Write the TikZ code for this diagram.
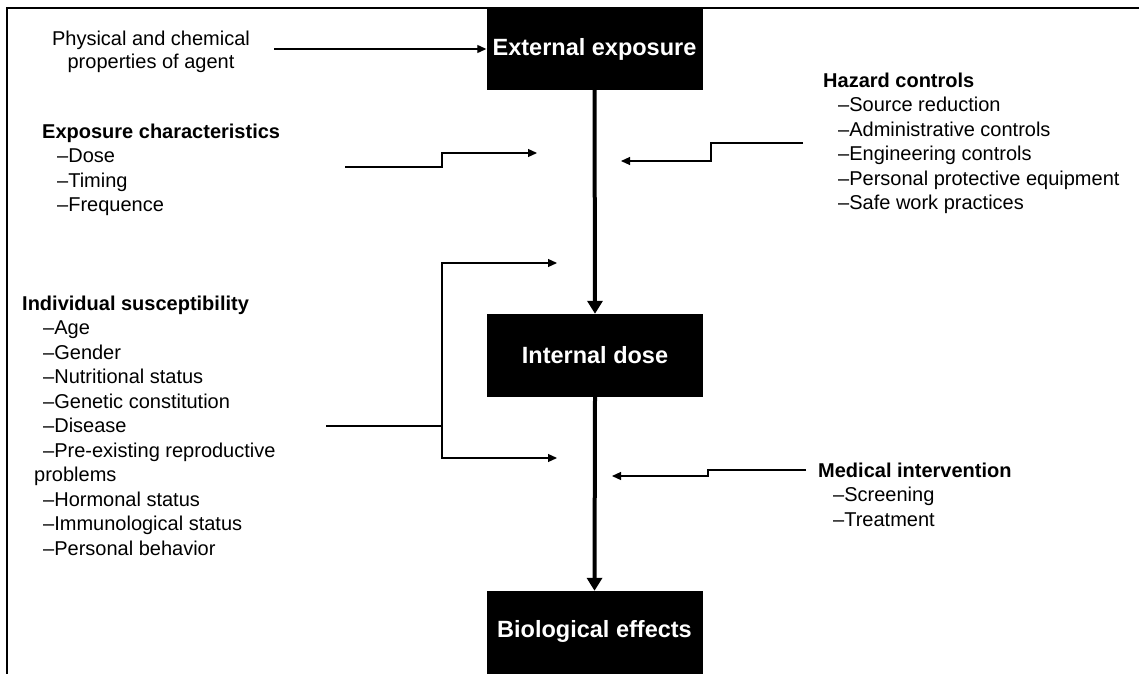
\documentclass[tikz,border=0pt]{standalone}
\usepackage{fontspec}
\setmainfont{Liberation Sans}
\usetikzlibrary{arrows.meta}
\begin{document}
\begin{tikzpicture}[x=1pt,y=-1pt,
  stage/.style={fill=black,text=white,inner sep=0pt,
    font=\fontsize{23.5}{27}\selectfont\bfseries,
    minimum width=216pt,minimum height=83pt},
  factor/.style={font=\fontsize{20}{24.5}\selectfont,align=left,
    inner sep=0pt,anchor=north west},
  feed/.style={line width=1.2pt,-{Triangle[length=9pt,width=8pt]}},
  wire/.style={line width=1.2pt},
  flow/.style={line width=4pt,-{Triangle[length=13pt,width=15pt]}}]
\useasboundingbox (0,0) rectangle (1139,674);

% frame
\draw[line width=1.5pt] (1139,8) -- (7,8) -- (7,674);

% main stages
\node[stage,minimum height=82pt] (ext) at (594.5,49) {\raisebox{-3pt}{External exposure}};
\node[stage] (int) at (595,355.5) {Internal dose};
\node[stage] (bio) at (594.5,632.5) {\raisebox{7pt}{Biological effects}};

\draw[flow] (ext.south) -- (int.north);
\draw[flow] (int.south) -- (bio.north);

% agent properties
\node[font=\fontsize{20}{23}\selectfont,align=center,inner sep=0pt,anchor=north]
  (agent) at (151,30.4) {Physical and chemical\\properties of agent};
\coordinate (agentEnd) at (274,49);
\draw[feed] (agentEnd) -- (ext.west);

% exposure characteristics
\node[factor] (expo) at (42,123.4) {\textbf{Exposure characteristics}\\
  \hspace*{15pt}\textendash Dose\\
  \hspace*{15pt}\textendash Timing\\
  \hspace*{15pt}\textendash Frequence};
\coordinate (expoA) at (345,167);
\coordinate (expoB) at (442,167);
\coordinate (expoC) at (442,153);
\coordinate (expoD) at (537,153);
\draw[feed] (expoA) -- (expoB) -- (expoC) -- (expoD);

% hazard controls
\node[factor] (haz) at (823,72.4) {\textbf{Hazard controls}\\
  \hspace*{15pt}\textendash Source reduction\\
  \hspace*{15pt}\textendash Administrative controls\\
  \hspace*{15pt}\textendash Engineering controls\\
  \hspace*{15pt}\textendash Personal protective equipment\\
  \hspace*{15pt}\textendash Safe work practices};
\coordinate (hazA) at (803,143);
\coordinate (hazB) at (711,143);
\coordinate (hazC) at (711,161);
\coordinate (hazD) at (621,161);
\draw[feed] (hazA) -- (hazB) -- (hazC) -- (hazD);

% individual susceptibility
\node[factor] (indiv) at (22,295.4) {\textbf{Individual susceptibility}\\
  \hspace*{21pt}\textendash Age\\
  \hspace*{21pt}\textendash Gender\\
  \hspace*{21pt}\textendash Nutritional status\\
  \hspace*{21pt}\textendash Genetic constitution\\
  \hspace*{21pt}\textendash Disease\\
  \hspace*{21pt}\textendash Pre-existing reproductive\\
  \hspace*{12pt}problems\\
  \hspace*{21pt}\textendash Hormonal status\\
  \hspace*{21pt}\textendash Immunological status\\
  \hspace*{21pt}\textendash Personal behavior};
\coordinate (indA) at (326,426);
\coordinate (indB) at (442,426);
\coordinate (indUp) at (557,263);
\coordinate (indDown) at (557,458);
\draw[wire] (indA) -- (indB);
\draw[feed] (indB) |- (indUp);
\draw[feed] (indB) |- (indDown);

% medical intervention
\node[factor] (med) at (818,462.4) {\textbf{Medical intervention}\\
  \hspace*{15pt}\textendash Screening\\
  \hspace*{15pt}\textendash Treatment};
\coordinate (medA) at (806,470);
\coordinate (medB) at (708,470);
\coordinate (medC) at (708,476);
\coordinate (medD) at (612,476);
\draw[feed] (medA) -- (medB) -- (medC) -- (medD);
\end{tikzpicture}
\end{document}
